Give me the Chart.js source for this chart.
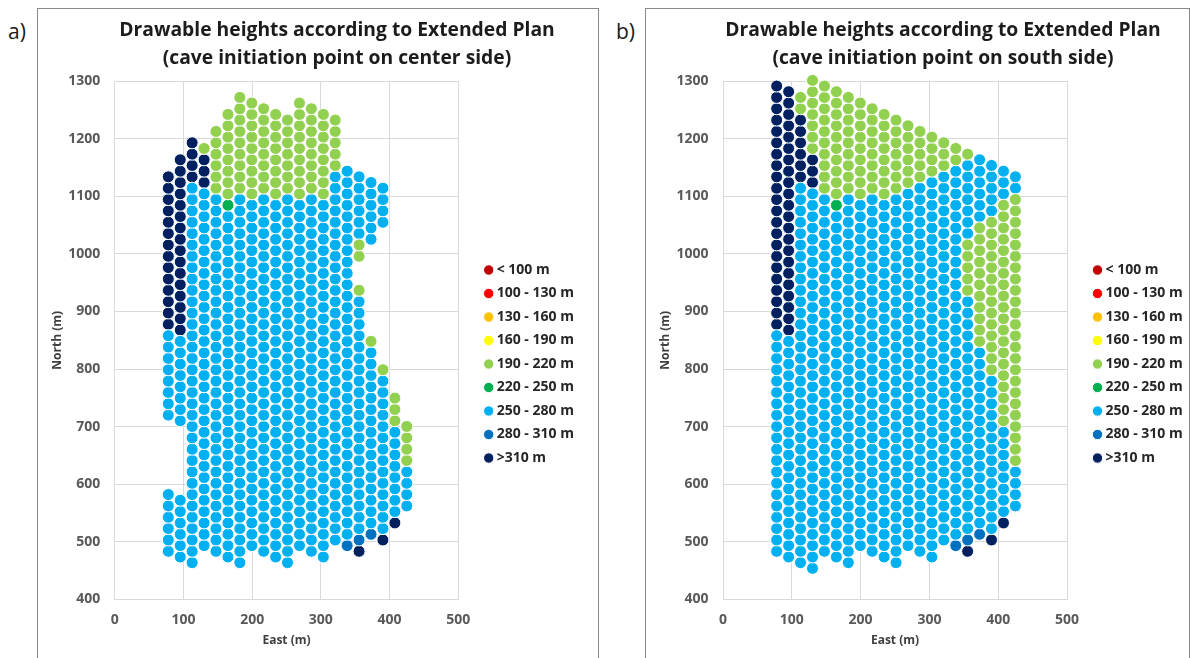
<!DOCTYPE html>
<html>
<head>
<meta charset="utf-8">
<script src="https://cdn.jsdelivr.net/npm/chart.js@4.4.1/dist/chart.umd.min.js"></script>
<style>
  html, body { margin: 0; padding: 0; background: #fff; width: 1190px; height: 658px; overflow: hidden; position: relative; }
  .panel { position: absolute; border: 1.5px solid #8a8a8a; box-sizing: border-box; }
  #boxA { left: 37px; top: 8px; width: 562px; height: 670px; }
  #boxB { left: 645px; top: 8px; width: 545px; height: 670px; }
  .tag { position: absolute; top: 20px; font: 21px/22px "Open Sans", sans-serif; color: #1a1a1a; }
  canvas { position: absolute; }
</style>
</head>
<body>
<div class="panel" id="boxA"></div>
<div class="panel" id="boxB"></div>
<div class="tag" style="left:8px">a)</div>
<div class="tag" style="left:616px">b)</div>
<canvas id="chartA"></canvas>
<canvas id="chartB"></canvas>
<script>
// Height classes (legend order), colours and the one-letter codes used in the column strings
const CLASS_LABELS = ['< 100 m', '100 - 130 m', '130 - 160 m', '160 - 190 m', '190 - 220 m',
                      '220 - 250 m', '250 - 280 m', '280 - 310 m', '>310 m'];
const CLASS_COLORS = ['#C00000', '#FF0000', '#FFC000', '#FFFF00', '#92D050',
                      '#00B050', '#00B0F0', '#0070C0', '#002060'];
const CLASS_CODES  = ['X', 'R', 'O', 'Y', 'L', 'G', 'B', 'D', 'N'];

// Drawpoint columns: easting of each column (m)
const EAST = [78.0, 95.4, 112.7, 130.1, 147.4, 164.8, 182.1, 199.5, 216.8, 234.2, 251.5,
              268.9, 286.2, 303.6, 320.9, 338.3, 355.6, 373.0, 390.3, 407.7, 425.0];
// Northing of slot 0 in even / odd columns, and spacing of drawpoints along a column (m)
const NORTH_SLOT0 = [464.0, 454.15];
const ROW_STEP = 19.7;

// Each column listed from its southern slot upward as runs: code + count ('.' = no drawpoint)
const COLUMNS_CENTER = [
  '.1 B6 .6 B8 N14',
  '.1 B6 .6 B8 N16',
  'B34 N4',
  '.2 B32 N3 L1',
  '.1 B32 L6',
  '.1 B31 G1 L8',
  'B33 L9',
  '.2 B31 L9',
  '.1 B32 L8',
  '.1 B32 L8',
  'B33 L7',
  '.2 B31 L9',
  '.1 B32 L8',
  '.1 B32 L8',
  '.2 B33 L5',
  '.2 D1 B33',
  '.1 N1 D1 B21 L1 .2 L2 B6',
  '.3 D1 B16 L1 .8 B6',
  '.2 N1 B14 L1 .12 B4',
  '.4 N1 B8 L3',
  '.5 B4 L4'
];

const COLUMNS_SOUTH = [
  '.1 B20 N22',
  '.1 B20 N22',
  'B34 N6 L2',
  'B34 N3 L7',
  '.1 B32 L10',
  '.1 B31 G1 L10',
  'B33 L9',
  '.2 B31 L9',
  '.1 B32 L8',
  '.1 B32 L8',
  'B33 L7',
  '.2 B32 L6',
  '.1 B33 L5',
  '.1 B34 L4',
  '.2 B33 L3',
  '.2 D1 B33 L2',
  '.1 N1 D1 B21 L5 B7 L1',
  '.3 D1 B16 L11 B6',
  '.2 N1 B14 L14 B5',
  '.4 N1 B8 L20 B3',
  '.5 B4 L24 B2'
];

const TITLE_CENTER = ['Drawable heights according to Extended Plan', '(cave initiation point on center side)'];
const TITLE_SOUTH  = ['Drawable heights according to Extended Plan', '(cave initiation point on south side)'];

const X_TICKS = { min: 0, max: 500, step: 100 };
const Y_TICKS = { min: 400, max: 1300, step: 100 };

// ---- styling ----
const FONT = '"Open Sans", "DejaVu Sans", sans-serif';
const GRID = '#d9d9d9';
const LEGEND_PAD = 9.5, LEGEND_BOX_W = 2, LEGEND_FONT = 14;
const AXIS_TITLE_FONT = 12;
Chart.defaults.font.family = FONT;

const GEOM_A = { canvasLeft: 38, canvasTop: 8, height: 650, titleCenter: 337,
  plotLeft: 114.7, plotRight: 458.3, plotTop: 81.1, plotBottom: 599.5,
  yTitleX: 58, legendDotX: 488.7, legendDotY: 270 };
const GEOM_B = { canvasLeft: 646, canvasTop: 8, height: 650, titleCenter: 943,
  plotLeft: 723, plotRight: 1067, plotTop: 81.1, plotBottom: 599.5,
  yTitleX: 666, legendDotX: 1097.5, legendDotY: 270 };

function buildDatasets(columns) {
  const sets = CLASS_LABELS.map((label, ci) => ({
    label, data: [], xAxisID: 'x', yAxisID: 'y',
    backgroundColor: CLASS_COLORS[ci], borderColor: '#ffffff', borderWidth: 1,
    pointRadius: 6, pointHoverRadius: 6, pointStyle: 'circle', clip: false
  }));
  columns.forEach((runs, i) => {
    let slot = 0;
    runs.split(' ').forEach(tok => {
      const code = tok[0], n = parseInt(tok.slice(1), 10);
      for (let j = 0; j < n; j++, slot++) {
        if (code === '.') continue;
        const ci = CLASS_CODES.indexOf(code);
        sets[ci].data.push({ x: EAST[i], y: NORTH_SLOT0[i % 2] + ROW_STEP * slot });
      }
    });
  });
  return sets;
}

function buildChart(id, g, columns, title) {
  // the title is centred on the canvas, so the canvas is made symmetric about it
  const width = 2 * (g.titleCenter - g.canvasLeft);
  const canvas = document.getElementById(id);
  canvas.width = width; canvas.height = g.height;
  canvas.style.left = g.canvasLeft + 'px';
  canvas.style.top = g.canvasTop + 'px';

  const lay = { outerGap: 0 };
  const gapWidth = g.legendDotX - g.plotRight - LEGEND_PAD - LEGEND_BOX_W / 2;
  const tickFont = { family: FONT, weight: 'bold', size: 14 };
  const axisTitleFont = { family: FONT, weight: 'bold', size: AXIS_TITLE_FONT, lineHeight: 1.2 };
  const legendTitleH = g.legendDotY - g.plotTop - LEGEND_PAD - LEGEND_FONT / 2;
  const plainNumber = v => String(v);
  const blankAxis = (w, weight) => ({
    type: 'linear', position: 'right', display: true, weight,
    ticks: { display: false }, grid: { display: false, drawTicks: false },
    border: { display: false }, afterFit: s => { s.width = w(); }
  });

  const chart = new Chart(canvas, {
    type: 'scatter',
    data: { datasets: buildDatasets(columns) },
    options: {
      responsive: false, animation: false, events: [],
      layout: { padding: 0 },
      plugins: {
        title: {
          display: true, text: title, color: '#1c1c1c',
          font: { family: FONT, weight: 'bold', size: 19.3, lineHeight: 1.45 },
          padding: { top: 9, bottom: 8 }
        },
        legend: {
          position: 'right', align: 'start', fullSize: false, maxWidth: 400,
          title: { display: true, text: '', font: { size: 10, lineHeight: 1 },
                   padding: { top: legendTitleH - 10, bottom: 0 } },
          labels: {
            usePointStyle: true, pointStyle: 'circle', boxWidth: LEGEND_BOX_W, boxHeight: 7.3,
            padding: LEGEND_PAD, color: '#262626',
            font: { family: FONT, weight: 'bold', size: LEGEND_FONT }
          }
        },
        tooltip: { enabled: false }
      },
      scales: {
        x: {
          type: 'linear', position: 'bottom', min: X_TICKS.min, max: X_TICKS.max,
          ticks: { stepSize: X_TICKS.step, padding: 12, color: '#595959', font: tickFont, callback: plainNumber },
          grid: { color: GRID, drawTicks: false }, border: { color: GRID },
          title: { display: true, text: 'East (m)', color: '#404040', font: axisTitleFont,
                   padding: { top: 0, bottom: 9.8 } },
          afterFit: s => { s.height = g.canvasTop + g.height - g.plotBottom; }
        },
        y: {
          type: 'linear', position: 'left', min: Y_TICKS.min, max: Y_TICKS.max,
          ticks: { stepSize: Y_TICKS.step, padding: 14.5, color: '#595959', font: tickFont, callback: plainNumber },
          grid: { color: GRID, drawTicks: false }, border: { color: GRID },
          title: { display: true, text: 'North (m)', color: '#404040', font: axisTitleFont,
                   padding: { top: g.yTitleX - g.canvasLeft - AXIS_TITLE_FONT * 0.6, bottom: 0 } },
          afterFit: s => { s.width = g.plotLeft - g.canvasLeft; }
        },
        gap: blankAxis(() => gapWidth, 0),
        edge: blankAxis(() => lay.outerGap, 2000)
      }
    }
  });

  // fill the space right of the legend so the plot ends where it should
  lay.outerGap = Math.max(0, (g.canvasLeft + width) - (g.plotRight + gapWidth + chart.legend.width));
  chart.update();

  const dTop = (g.plotTop - g.canvasTop) - chart.chartArea.top;
  chart.options.plugins.title.padding = { top: 9, bottom: 8 + dTop };
  chart.update();
  return chart;
}

buildChart('chartA', GEOM_A, COLUMNS_CENTER, TITLE_CENTER);
buildChart('chartB', GEOM_B, COLUMNS_SOUTH, TITLE_SOUTH);
</script>
</body>
</html>
